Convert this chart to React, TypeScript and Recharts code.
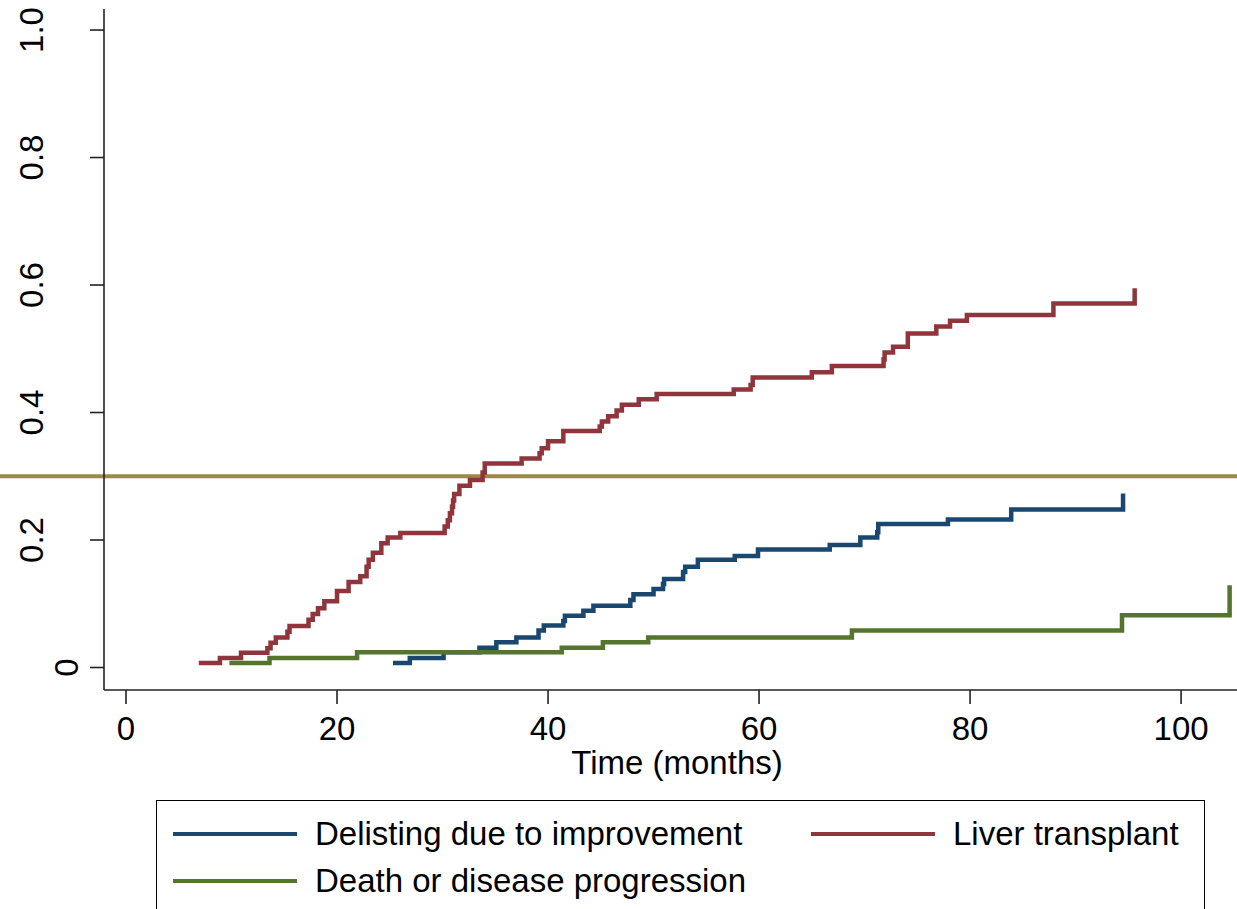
import React from 'react';
import { LineChart, Line, XAxis, YAxis, ReferenceLine, Legend } from 'recharts';

// Cumulative incidence (time in months)
const delistTime = [25.3, 26.9, 30.1, 33.5, 35.1, 37.0, 39.1, 39.6, 41.45, 41.6, 43.35, 44.3, 47.8, 48.1, 50.0, 50.9, 51.0, 52.8, 53.0, 54.2, 57.7, 59.9, 66.7, 69.6, 71.2, 71.3, 77.9, 83.9, 94.5, 94.5];
const delistValue = [0.007, 0.015, 0.024, 0.031, 0.0395, 0.047, 0.058, 0.066, 0.073, 0.081, 0.089, 0.097, 0.106, 0.115, 0.123, 0.131, 0.139, 0.15, 0.158, 0.169, 0.175, 0.185, 0.192, 0.204, 0.212, 0.225, 0.232, 0.248, 0.248, 0.273];

const transplantTime = [6.9, 8.9, 10.9, 13.4, 13.7, 14.2, 15.3, 15.5, 17.3, 17.7, 18.2, 18.8, 20.0, 21.1, 22.2, 22.8, 23.0, 23.4, 24.2, 24.8, 26.0, 30.2, 30.5, 30.7, 30.9, 31.0, 31.1, 31.6, 32.6, 33.8, 34.0, 37.5, 39.2, 39.4, 40.0, 41.45, 44.9, 45.1, 45.7, 46.5, 47.0, 48.6, 50.3, 57.6, 59.2, 59.4, 65.0, 66.9, 71.8, 71.9, 72.7, 74.1, 76.8, 78.1, 79.7, 87.9, 95.6, 95.6];
const transplantValue = [0.007, 0.015, 0.023, 0.03, 0.039, 0.047, 0.056, 0.065, 0.075, 0.084, 0.093, 0.104, 0.12, 0.134, 0.143, 0.158, 0.169, 0.18, 0.195, 0.204, 0.211, 0.221, 0.231, 0.242, 0.252, 0.262, 0.272, 0.285, 0.294, 0.306, 0.32, 0.328, 0.336, 0.344, 0.355, 0.371, 0.378, 0.386, 0.394, 0.403, 0.412, 0.421, 0.429, 0.436, 0.443, 0.455, 0.463, 0.473, 0.483, 0.494, 0.503, 0.524, 0.535, 0.544, 0.553, 0.571, 0.571, 0.595];

const deathTime = [9.8, 13.6, 21.9, 41.3, 45.2, 49.5, 68.8, 94.4, 104.6, 104.6];
const deathValue = [0.007, 0.015, 0.024, 0.031, 0.0395, 0.047, 0.058, 0.082, 0.082, 0.129];

const seriesNames = ['Delisting due to improvement', 'Liver transplant', 'Death or disease progression'];
const xTicks = [0, 20, 40, 60, 80, 100];
const yTicks = [0, 0.2, 0.4, 0.6, 0.8, 1.0];
const cutoffLine = 0.3;

const toPoints = (times: number[], values: number[]) =>
  times.map((t, i) => ({ t, v: values[i] }));

const FONT = '"Liberation Sans", Arial, Helvetica, sans-serif';

// Stata-style rotated y labels
const YTick = (props: any) => {
  const { y, payload } = props;
  const label = payload.value === 0 ? '0' : payload.value.toFixed(1);
  const bx = label === '0' ? 78 : 43;
  return (
    <text x={bx} y={y} transform={`rotate(-90 ${bx} ${y})`} textAnchor="middle" fontSize={33} fill="#000" fontFamily={FONT}>
      {label}
    </text>
  );
};

const LegendBox = (props: any) => {
  const items = [...(props.payload || [])].sort(
    (a: any, b: any) => seriesNames.indexOf(a.value) - seriesNames.indexOf(b.value)
  );
  // two columns, filled row by row
  const slots = [
    { left: 16, top: 13 },
    { left: 654, top: 13 },
    { left: 16, top: 60 },
  ];
  return (
    <div style={{ width: 1049, height: 140, border: '1.5px solid #000', boxSizing: 'border-box', position: 'relative', background: '#fff', fontFamily: FONT }}>
      {items.map((item: any, i: number) => (
        <div key={i} style={{ position: 'absolute', left: slots[i].left, top: slots[i].top, height: 40, display: 'flex', alignItems: 'center', whiteSpace: 'nowrap' }}>
          <div style={{ width: 124, height: 4.5, background: item.color }} />
          <span style={{ marginLeft: 18, fontSize: 33, color: '#000' }}>{item.value}</span>
        </div>
      ))}
    </div>
  );
};

const App: React.FC = () => {
  return (
    <div style={{ position: 'absolute', left: 0, top: 0, width: 1237, height: 909, overflow: 'hidden', background: '#fff' }}>
      <LineChart width={1237} height={909} margin={{ top: 9, right: 0, left: 0, bottom: 139 }}>
        <XAxis
          type="number"
          dataKey="t"
          domain={[-2.085, 105.3]}
          ticks={xTicks}
          allowDataOverflow
          height={80}
          tickSize={14}
          tickMargin={13}
          stroke="#222"
          strokeWidth={1.6}
          tick={{ fontSize: 33, fill: '#000', fontFamily: FONT }}
        />
        <YAxis
          type="number"
          dataKey="v"
          domain={[-0.0353, 1.033]}
          ticks={yTicks}
          allowDataOverflow
          width={104}
          tickSize={14}
          stroke="#222"
          strokeWidth={1.6}
          tick={<YTick />}
        />
        <ReferenceLine
          segment={[{ x: -11.95, y: cutoffLine }, { x: 105.3, y: cutoffLine }]}
          stroke="#9c8847"
          strokeWidth={4}
          ifOverflow="visible"
        />
        <Line data={toPoints(delistTime, delistValue)} dataKey="v" name={seriesNames[0]} type="stepAfter" stroke="#1a476f" strokeWidth={4.5} dot={false} isAnimationActive={false} />
        <Line data={toPoints(transplantTime, transplantValue)} dataKey="v" name={seriesNames[1]} type="stepAfter" stroke="#90353b" strokeWidth={4.5} dot={false} isAnimationActive={false} />
        <Line data={toPoints(deathTime, deathValue)} dataKey="v" name={seriesNames[2]} type="stepAfter" stroke="#55752f" strokeWidth={4.5} dot={false} isAnimationActive={false} />
        <Legend
          layout="vertical"
          align="center"
          verticalAlign="middle"
          content={<LegendBox />}
          wrapperStyle={{ left: 156, top: 800, width: 1049 }}
        />
      </LineChart>
      <div style={{ position: 'absolute', left: 0, width: 1354, top: 744, textAlign: 'center', fontFamily: FONT, fontSize: 33, color: '#000', lineHeight: '38px' }}>
        Time (months)
      </div>
    </div>
  );
};

export default App;
